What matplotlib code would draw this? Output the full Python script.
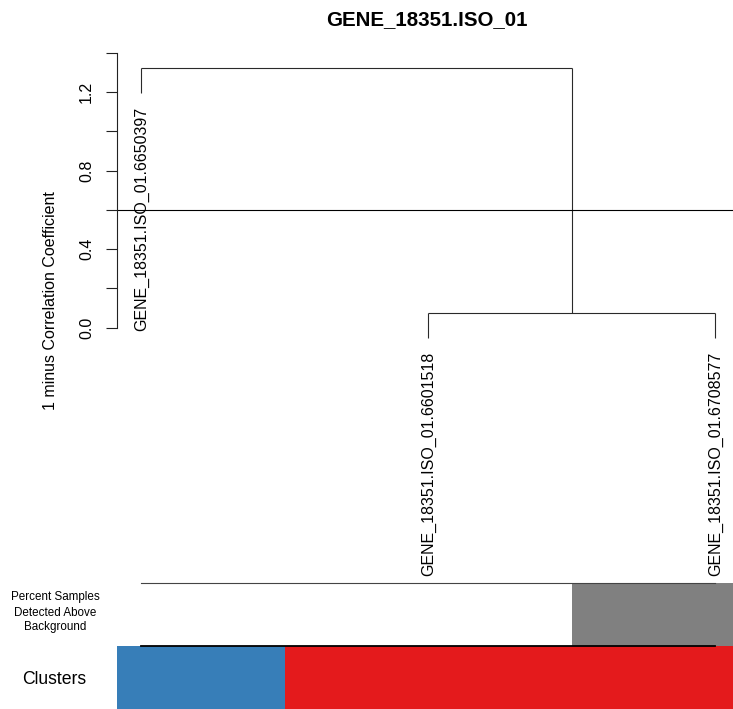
import matplotlib
matplotlib.use("Agg")
import matplotlib.pyplot as plt
from matplotlib import transforms
from matplotlib.patches import Rectangle

# ---- data -------------------------------------------------------------
title = "GENE_18351.ISO_01"
leaf_labels = [
    "GENE_18351.ISO_01.6650397",
    "GENE_18351.ISO_01.6601518",
    "GENE_18351.ISO_01.6708577",
]
# hclust-style merges: negative = leaf (1-based), positive = earlier merge
merge_pairs = [(-2, -3), (-1, 1)]
merge_heights = [0.073, 1.322]
cut_height = 0.6
y_ticks = [0.0, 0.2, 0.4, 0.6, 0.8, 1.0, 1.2, 1.4]
y_tick_labels = ["0.0", "", "0.4", "", "0.8", "", "1.2", ""]
y_label = "1 minus Correlation Coefficient"
percent_detected = [0, 0, 50]          # per leaf, 0-100
cluster_ids = [1, 2, 2]                # per leaf
cluster_palette = {1: "#377EB8", 2: "#E41A1C"}
percent_row_label = ["Percent Samples", "Detected Above", "Background"]
cluster_row_label = "Clusters"

# ---- figure setup -----------------------------------------------------
W, H, DPI = 733, 709, 100
plt.rcParams["font.family"] = ["Liberation Sans", "DejaVu Sans"]
fig = plt.figure(figsize=(W / DPI, H / DPI), dpi=DPI)


def box(left, top, right, bottom):
    return [left / W, 1 - bottom / H, (right - left) / W, (bottom - top) / H]


def shifted(trans, dx, dy):
    # shift a transform by screen pixels (dy positive = downward)
    return trans + transforms.ScaledTranslation(dx / DPI, -dy / DPI, fig.dpi_scale_trans)


xlim = (1 - 24 / 287, 3 + 18 / 287)
ax = fig.add_axes(box(117, 40, 733, 580))
ax.set_xlim(*xlim)
ax.set_ylim((327.7 - 580) / 196.2, (327.7 - 40) / 196.2)
for s in ["top", "right", "bottom"]:
    ax.spines[s].set_visible(False)
ax.spines["left"].set_bounds(y_ticks[0], y_ticks[-1])
ax.spines["left"].set_color("#222222")
ax.spines["left"].set_linewidth(0.8)
ax.set_xticks([])
ax.set_yticks(y_ticks)
ax.set_yticklabels([])
ax.tick_params(axis="y", direction="out", length=7.6, width=0.8, color="#222222")

# tick labels, rotated like base R
ylab_trans = shifted(ax.get_yaxis_transform(), -26, 0)
for v, lab in zip(y_ticks, y_tick_labels):
    if lab:
        ax.text(0, v, lab, transform=ylab_trans, rotation=90, rotation_mode="anchor",
                ha="center", va="baseline", fontsize=11.5, clip_on=False)

# ---- dendrogram -------------------------------------------------------
n = len(leaf_labels)
leaf_x = {i + 1: float(i + 1) for i in range(n)}
hang = 0.1 * (max(merge_heights) - min(merge_heights))
line_kw = dict(color="#2a2a2a", lw=0.8, solid_capstyle="butt")

node_x = {}
for k, ((a, b), h) in enumerate(zip(merge_pairs, merge_heights), start=1):
    xs = []
    for c in (a, b):
        if c < 0:
            cx = leaf_x[-c]
            bottom = h - hang
            ax.plot([cx, cx], [h, bottom], **line_kw)
            ax.annotate(leaf_labels[-c - 1], xy=(cx, bottom), xytext=(5, -14),
                        textcoords="offset pixels", rotation=90, rotation_mode="anchor",
                        ha="right", va="baseline", fontsize=11.5, annotation_clip=False)
        else:
            cx = node_x[c]
            ax.plot([cx, cx], [h, merge_heights[c - 1]], **line_kw)
        xs.append(cx)
    ax.plot([xs[0], xs[1]], [h, h], **line_kw)
    node_x[k] = (xs[0] + xs[1]) / 2

ax.axhline(cut_height, color="black", lw=0.8)

fig.text(55 / W, 1 - 301 / H, y_label, rotation=90, rotation_mode="anchor",
         ha="center", va="baseline", fontsize=11.5)
fig.text(427 / W, 1 - 25 / H, title, ha="center", va="baseline",
         fontsize=14.8, fontweight="bold")

# ---- annotation bars --------------------------------------------------
bx = fig.add_axes(box(117, 583.3, 733, 709))
bx.set_xlim(*xlim)
bx.set_ylim(2, 0)
bx.axis("off")

positions = [leaf_x[i + 1] for i in range(n)]
edges = [xlim[0]] + [(positions[i] + positions[i + 1]) / 2 for i in range(n - 1)] + [xlim[1]]
for i in range(n):
    g = 1 - percent_detected[i] / 100
    bx.add_patch(Rectangle((edges[i], 0), edges[i + 1] - edges[i], 1,
                           facecolor=(g, g, g), edgecolor="none"))
    bx.add_patch(Rectangle((edges[i], 1), edges[i + 1] - edges[i], 1,
                           facecolor=cluster_palette[cluster_ids[i]], edgecolor="none"))
bx.plot([positions[0], positions[-1]], [0, 0], color="#444444", lw=0.8, clip_on=False)
bx.plot([positions[0], positions[-1]], [1, 1], color="black", lw=1.3, clip_on=False)

for txt, base in zip(percent_row_label, [600.3, 615.5, 629.6]):
    fig.text(55 / W, 1 - base / H, txt, ha="center", va="baseline", fontsize=8.4)
fig.text(54.5 / W, 1 - 684.3 / H, cluster_row_label, ha="center", va="baseline",
         fontsize=12.7)

fig.savefig("out.png", dpi=DPI)
